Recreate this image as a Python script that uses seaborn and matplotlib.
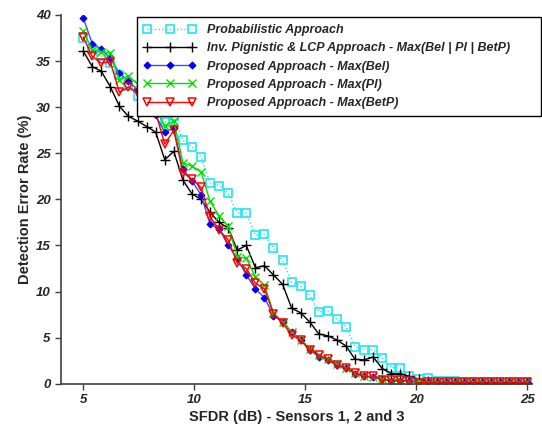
import matplotlib
matplotlib.use("Agg")
import matplotlib.pyplot as plt
import numpy as np
import pandas as pd
import seaborn as sns

# SFDR sweep: 50 evenly spaced points between 5 and 25 dB
sfdr = np.linspace(5, 25, 50)

probabilistic = [37.5, 36.3, 35.6, 34.8, 33.5, 32.3, 31.2, 30.2, 29.6, 28.4,
                 29.0, 26.4, 25.7, 24.6, 21.8, 21.5, 20.7, 18.5, 18.5, 16.1,
                 16.2, 14.7, 13.4, 11.0, 10.6, 9.6, 7.8, 7.9, 7.0, 6.2,
                 4.0, 3.7, 3.7, 2.8, 1.75, 1.7, 0.85, 0.5, 0.65, 0.35,
                 0.3, 0.25, 0.2, 0.2, 0.2, 0.2, 0.2, 0.2, 0.2, 0.2]
inv_pignistic = [36.1, 34.4, 33.9, 32.2, 30.1, 29.0, 28.5, 27.9, 27.3, 24.3,
                 25.2, 22.1, 20.6, 20.0, 18.6, 17.5, 16.9, 14.5, 15.0, 12.6,
                 12.8, 11.8, 10.8, 8.2, 7.7, 6.7, 5.4, 5.2, 4.75, 4.1,
                 2.65, 2.6, 2.9, 1.65, 1.1, 1.1, 0.8, 0.5, 0.3, 0.2,
                 0.2, 0.1, 0.1, 0.1, 0.1, 0.1, 0.1, 0.1, 0.1, 0.1]
max_bel = [39.7, 36.9, 36.3, 35.3, 33.7, 32.8, 31.9, 30.6, 29.1, 27.3,
           27.7, 23.3, 22.0, 20.5, 17.3, 16.8, 15.0, 13.6, 11.8, 10.3,
           9.35, 7.4, 6.7, 5.6, 4.75, 3.7, 2.9, 2.6, 2.0, 1.7,
           1.1, 0.8, 0.7, 0.5, 0.3, 0.35, 0.3, 0.25, 0.2, 0.2,
           0.2, 0.2, 0.2, 0.2, 0.2, 0.2, 0.2, 0.2, 0.2, 0.2]
max_pl = [38.3, 36.2, 36.0, 35.9, 33.0, 33.4, 32.5, 31.2, 29.8, 28.0,
          28.5, 24.0, 23.6, 23.0, 19.8, 18.2, 17.1, 13.8, 13.6, 11.6,
          10.7, 7.7, 6.7, 5.65, 4.8, 3.8, 3.1, 2.7, 2.1, 1.75,
          1.2, 0.85, 0.75, 0.5, 0.4, 0.4, 0.3, 0.25, 0.2, 0.2,
          0.2, 0.2, 0.2, 0.2, 0.2, 0.2, 0.2, 0.2, 0.2, 0.2]
max_betp = [37.6, 35.5, 34.8, 34.9, 31.6, 32.2, 31.5, 30.4, 29.4, 26.0,
            27.5, 22.9, 22.2, 21.3, 18.1, 16.7, 15.6, 13.1, 12.5, 10.9,
            10.3, 7.6, 6.6, 5.3, 4.7, 3.7, 3.1, 2.65, 2.0, 1.7,
            1.2, 0.8, 0.8, 0.4, 0.4, 0.4, 0.3, 0.1, 0.15, 0.15,
            0.15, 0.15, 0.15, 0.15, 0.15, 0.15, 0.15, 0.15, 0.15, 0.15]

labels = ["Probabilistic Approach",
          "Inv. Pignistic & LCP Approach - Max(Bel | Pl | BetP)",
          "Proposed Approach - Max(Bel)",
          "Proposed Approach - Max(Pl)",
          "Proposed Approach - Max(BetP)"]

sns.set_style("white")
plt.rcParams["font.family"] = ["Liberation Sans", "DejaVu Sans"]

fig = plt.figure(figsize=(5.42, 4.28), dpi=100)
ax = fig.add_axes([0.1125, 0.1033, 0.8685, 0.8617])

styles = [
    dict(color="#22e5f0", linestyle=":", marker="s", markersize=6,
         markerfacecolor="none", markeredgecolor="#22e5f0", markeredgewidth=1.2),
    dict(color="black", linestyle="-", marker="+", markersize=7,
         markeredgecolor="black", markeredgewidth=1.0),
    dict(color="#3a4cff", linestyle="-", marker="D", markersize=3.5,
         markerfacecolor="blue", markeredgecolor="blue", markeredgewidth=0.8),
    dict(color="#00e000", linestyle="-", marker="x", markersize=5.5,
         markeredgecolor="#00e000", markeredgewidth=1.0),
    dict(color="red", linestyle="-", marker="v", markersize=6,
         markerfacecolor="none", markeredgecolor="red", markeredgewidth=1.1),
]
series = [probabilistic, inv_pignistic, max_bel, max_pl, max_betp]

for vals, lab, st in zip(series, labels, styles):
    df = pd.DataFrame({"sfdr": sfdr, "err": vals})
    sns.lineplot(data=df, x="sfdr", y="err", ax=ax, label=lab,
                 estimator=None, linewidth=1.0, **st)

ax.set_xlim(4, 25.2)
ax.set_ylim(0, 40)
ax.set_xticks([5, 10, 15, 20, 25])
ax.set_yticks(range(0, 41, 5))

for side in ["top", "right"]:
    ax.spines[side].set_visible(False)
for side in ["left", "bottom"]:
    ax.spines[side].set_color("#404040")
    ax.spines[side].set_linewidth(1.2)

ax.tick_params(direction="out", length=4, width=1, color="#404040",
               bottom=True, left=True, labelsize=9.5)
for t in ax.get_xticklabels() + ax.get_yticklabels():
    t.set_fontweight("bold")
    t.set_fontstyle("italic")

ax.set_xlabel("SFDR (dB) - Sensors 1, 2 and 3", fontsize=10.5,
              fontweight="bold", labelpad=3)
ax.set_ylabel("Detection Error Rate (%)", fontsize=10.5,
              fontweight="bold", labelpad=3)

leg = ax.legend(loc="upper left", bbox_to_anchor=(0.161, 0.732, 0.859, 0.262),
                mode="expand", frameon=True, fancybox=False, framealpha=1,
                edgecolor="black", numpoints=3, handlelength=4.2,
                handletextpad=0.9, labelspacing=0.5, borderpad=0.55,
                borderaxespad=0, prop=dict(weight="bold", style="italic", size=9))
leg.get_frame().set_linewidth(1.0)

fig.savefig("out.png", dpi=100)
